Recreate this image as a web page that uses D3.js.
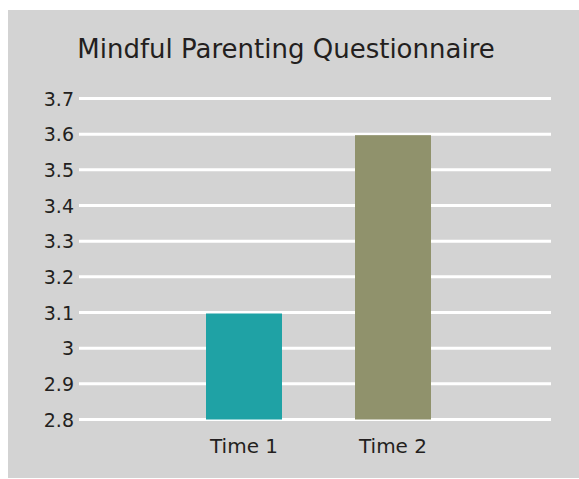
<!DOCTYPE html>
<html>
<head>
<meta charset="utf-8">
<script src="https://cdn.jsdelivr.net/npm/d3@7"></script>
<style>
  html, body { margin: 0; padding: 0; background: #ffffff; }
  svg { display: block; }
  text { font-family: "DejaVu Sans", sans-serif; fill: #231f20; }
</style>
</head>
<body>
<svg id="chart" width="579" height="479"></svg>
<script>
const title = "Mindful Parenting Questionnaire";
const categories = ["Time 1", "Time 2"];
const values = [3.1, 3.6];
const colors = ["#1fa2a5", "#90926c"];
const yTicks = [2.8, 2.9, 3.0, 3.1, 3.2, 3.3, 3.4, 3.5, 3.6, 3.7];
const yTickLabels = ["2.8", "2.9", "3", "3.1", "3.2", "3.3", "3.4", "3.5", "3.6", "3.7"];

const svg = d3.select("#chart");

svg.append("rect")
  .attr("x", 8).attr("y", 10)
  .attr("width", 571).attr("height", 468)
  .attr("fill", "#d3d3d3");

svg.append("text")
  .attr("x", 286).attr("y", 58)
  .attr("text-anchor", "middle")
  .attr("font-size", 26)
  .text(title);

const y = d3.scaleLinear().domain([2.8, 3.7]).range([419.5, 98.5]);
const x = d3.scaleBand().domain(categories).range([133, 504])
  .paddingInner(0.49).paddingOuter(0.49);

const grid = svg.append("g");
grid.selectAll("line").data(yTicks).join("line")
  .attr("x1", 79).attr("x2", 551)
  .attr("y1", d => y(d)).attr("y2", d => y(d))
  .attr("stroke", "#ffffff").attr("stroke-width", 3);

svg.append("g").selectAll("text").data(yTicks).join("text")
  .attr("x", 74).attr("y", d => y(d))
  .attr("dy", "0.38em")
  .attr("text-anchor", "end")
  .attr("font-size", 19)
  .text((d, i) => yTickLabels[i]);

svg.append("g").selectAll("rect").data(values).join("rect")
  .attr("x", (d, i) => x(categories[i]))
  .attr("width", x.bandwidth())
  .attr("y", d => y(d) + 1)
  .attr("height", d => y(2.8) - y(d) - 1)
  .attr("fill", (d, i) => colors[i]);

svg.append("g").selectAll("text").data(categories).join("text")
  .attr("x", d => x(d) + x.bandwidth() / 2)
  .attr("y", 453)
  .attr("text-anchor", "middle")
  .attr("font-size", 20)
  .text(d => d);
</script>
</body>
</html>
